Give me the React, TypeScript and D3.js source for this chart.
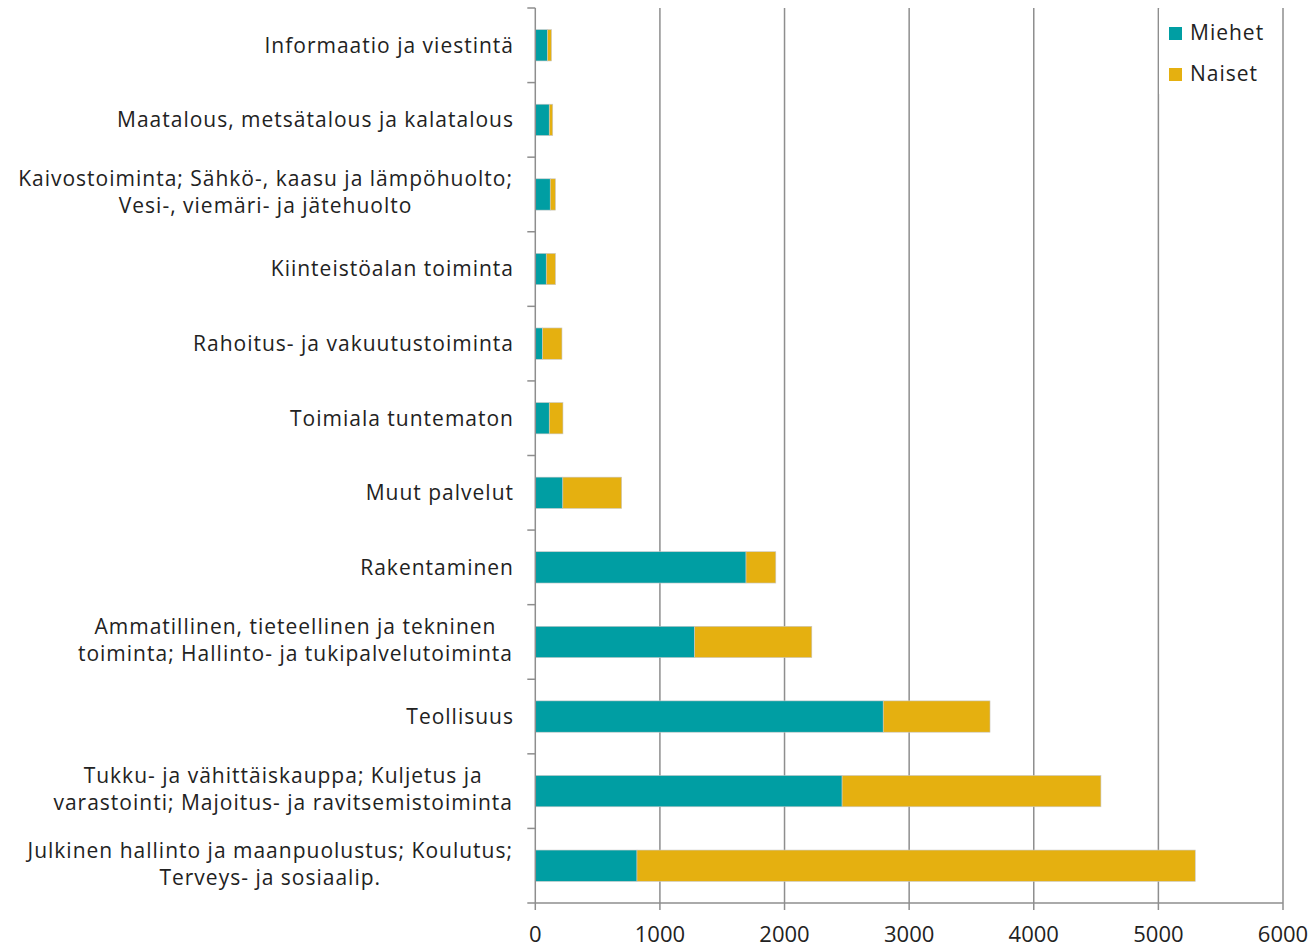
import React from "react";
import * as d3 from "d3";

const categories: string[][] = [
  ["Informaatio ja viestintä"],
  ["Maatalous, metsätalous ja kalatalous"],
  ["Kaivostoiminta; Sähkö-, kaasu ja lämpöhuolto;", "Vesi-, viemäri- ja jätehuolto"],
  ["Kiinteistöalan toiminta"],
  ["Rahoitus- ja vakuutustoiminta"],
  ["Toimiala tuntematon"],
  ["Muut palvelut"],
  ["Rakentaminen"],
  ["Ammatillinen, tieteellinen ja tekninen", "toiminta; Hallinto- ja tukipalvelutoiminta"],
  ["Teollisuus"],
  ["Tukku- ja vähittäiskauppa; Kuljetus ja", "varastointi; Majoitus- ja ravitsemistoiminta"],
  ["Julkinen hallinto ja maanpuolustus; Koulutus;", "Terveys- ja sosiaalip."],
];
const miehet: number[] = [98, 112, 120, 88, 58, 112, 221, 1691, 1279, 2792, 2462, 816];
const naiset: number[] = [32, 28, 42, 74, 156, 110, 472, 239, 940, 857, 2077, 4480];
const xTicks: number[] = [0, 1000, 2000, 3000, 4000, 5000, 6000];
const seriesNames: string[] = ["Miehet", "Naiset"];
const colors: string[] = ["#009EA3", "#E5B010"];

const FONT = "'Open Sans', sans-serif";
const FS = 21;
const LS = 1;
const TICK_FS = 22;

function measure(text: string): number {
  const c = document.createElement("canvas").getContext("2d");
  if (!c) return text.length * 10.5;
  c.font = `${FS}px 'Open Sans'`;
  return c.measureText(text).width + text.length * LS;
}

export default function App() {
  const W = 1312, H = 949;
  const left = 535.3, right = 1283, top = 8, bottom = 903;
  const x = d3.scaleLinear().domain([0, 6000]).range([left, right]);
  const y = d3.scaleBand<number>().domain(categories.map((_, i) => i)).range([top, bottom]).paddingInner(0.58).paddingOuter(0.29);
  const yb = d3.scaleBand<number>().domain(categories.map((_, i) => i)).range([top, bottom]);
  const grid = "#8E8E8E";
  const labelRight = 513;
  const lineH = 27;

  return (
    <svg width={W} height={H} style={{ position: "absolute", left: 0, top: 0, background: "#fff" }} fontFamily={FONT}>
      {xTicks.slice(1).map((t) => (
        <line key={"g" + t} x1={x(t)} x2={x(t)} y1={top} y2={bottom} stroke={grid} strokeWidth={1.5} />
      ))}
      {categories.map((_, i) => (
        <g key={"b" + i}>
          <rect x={x(0)} y={y(i)!} width={x(miehet[i]) - x(0)} height={y.bandwidth()} fill={colors[0]} stroke="#c8c8c8" strokeWidth={0.6} />
          <rect x={x(miehet[i])} y={y(i)!} width={x(miehet[i] + naiset[i]) - x(miehet[i])} height={y.bandwidth()} fill={colors[1]} stroke="#c8c8c8" strokeWidth={0.6} />
        </g>
      ))}
      <line x1={left} x2={left} y1={top} y2={bottom} stroke={grid} strokeWidth={1.5} />
      <line x1={left} x2={right} y1={bottom} y2={bottom} stroke={grid} strokeWidth={1.5} />
      {categories.map((_, i) => (
        <line key={"lt" + i} x1={left - 8} x2={left} y1={yb(i)!} y2={yb(i)!} stroke={grid} strokeWidth={1.5} />
      ))}
      <line x1={left - 8} x2={left} y1={bottom} y2={bottom} stroke={grid} strokeWidth={1.5} />
      {xTicks.map((t) => (
        <g key={"t" + t}>
          <line x1={x(t)} x2={x(t)} y1={bottom} y2={bottom + 7} stroke={grid} strokeWidth={1.5} />
          <text x={x(t)} y={bottom + 39} textAnchor="middle" fontSize={TICK_FS} fill="#222">{t}</text>
        </g>
      ))}
      {categories.map((lines, i) => {
        const cy = yb(i)! + yb.bandwidth() / 2;
        if (lines.length === 1) {
          return (
            <text key={"l" + i} x={labelRight + LS} y={cy + 7.4} textAnchor="end" fontSize={FS} letterSpacing={LS} fill="#222">{lines[0]}</text>
          );
        }
        const maxW = Math.max(...lines.map(measure));
        const cx = labelRight - maxW / 2;
        return (
          <text key={"l" + i} textAnchor="middle" fontSize={FS} letterSpacing={LS} fill="#222">
            {lines.map((ln, k) => (
              <tspan key={k} x={cx} y={cy + 5.5 + (k - (lines.length - 1) / 2) * lineH}>{ln}</tspan>
            ))}
          </text>
        );
      })}
      <rect x={1159} y={9} width={123} height={85} fill="#fff" />
      {seriesNames.map((s, k) => (
        <g key={"lg" + s}>
          <rect x={1169} y={27 + k * 41} width={13} height={13} fill={colors[k]} />
          <text x={1190} y={40 + k * 41} fontSize={FS} letterSpacing={LS} fill="#222">{s}</text>
        </g>
      ))}
    </svg>
  );
}
